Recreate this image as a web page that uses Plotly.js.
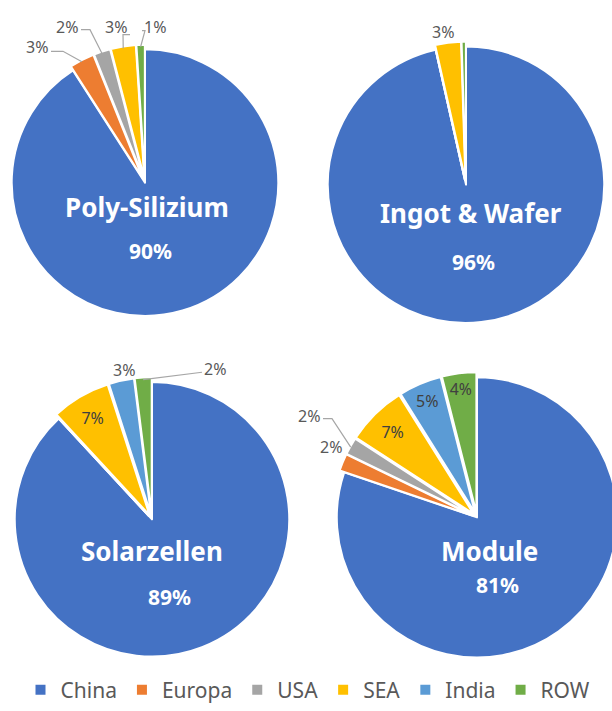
<!DOCTYPE html>
<html>
<head>
<meta charset="utf-8">
<script src="https://cdn.plot.ly/plotly-3.0.1.min.js"></script>
<style>
html, body { margin: 0; padding: 0; overflow: hidden; background: #fff; }
#chart { width: 630px; height: 711px; }
</style>
</head>
<body>
<div id="chart"></div>
<script>
// ---- data ----
const regions = ["China", "Europa", "USA", "SEA", "India", "ROW"];
const stages = ["Poly-Silizium", "Ingot & Wafer", "Solarzellen", "Module"];
const polySilizium = [90, 3, 2, 3, 0, 1];
const ingotWafer   = [96, 0, 0, 3, 0, 0.5];
const solarzellen  = [89, 0, 0, 7, 3, 2];
const moduleShare  = [81, 2, 2, 7, 5, 4];
const colors = ["#4472C4", "#ED7D31", "#A5A5A5", "#FFC000", "#5B9BD5", "#70AD47"];

// ---- layout helpers (positions only) ----
const W = 630, H = 711;
const seriesList = [polySilizium, ingotWafer, solarzellen, moduleShare];
const geo = [
  {cx: 145, cy: 185, r: 135},
  {cx: 466, cy: 187, r: 140},
  {cx: 152, cy: 526, r: 139},
  {cx: 477, cy: 524, r: 142}
];
const PULL = 0.035;
// slices labelled inside by plotly
const insideIdx = [[], [], [3], [3, 4, 5]];
// outside labels: pie, slice, label centre (px), optional elbow (px)
const outLabels = [
  {p: 0, k: 1, x: 37,  y: 48,  elbow: [63, 52]},
  {p: 0, k: 2, x: 67,  y: 27,  elbow: [90, 30]},
  {p: 0, k: 3, x: 116, y: 27,  elbow: [123, 35]},
  {p: 0, k: 5, x: 155, y: 27,  elbow: [145, 31]},
  {p: 1, k: 3, x: 443, y: 32,  elbow: null},
  {p: 2, k: 4, x: 124, y: 375, elbow: null},
  {p: 2, k: 5, x: 215, y: 374, elbow: [202, 377]},
  {p: 3, k: 2, x: 309, y: 421, elbow: [332, 424]},
  {p: 3, k: 1, x: 331, y: 453, elbow: null}
];

const traces = seriesList.map((vals, i) => {
  const g = geo[i];
  const half = g.r * (1 + PULL);
  return {
    type: "pie",
    name: stages[i],
    labels: regions,
    values: vals,
    sort: false,
    direction: "clockwise",
    rotation: 0,
    pull: vals.map((v, k) => k === 0 ? 0 : PULL),
    marker: {colors: colors, line: {color: "#ffffff", width: 2}},
    texttemplate: vals.map((v, k) => insideIdx[i].includes(k) ? v + "%" : ""),
    textposition: vals.map((v, k) => insideIdx[i].includes(k) ? "inside" : "none"),
    insidetextorientation: "horizontal",
    insidetextfont: {family: "Noto Sans", size: 16, color: "#404040"},
    hoverinfo: "label+value",
    showlegend: true,
    domain: {
      x: [(g.cx - half) / W, (g.cx + half) / W],
      y: [1 - (g.cy + half) / H, 1 - (g.cy - half) / H]
    }
  };
});

const px = x => x / W, py = y => 1 - y / H;
const annotations = [];
const shapes = [];

// big labels inside the China slice
const titlePos = [
  {x: 147, y: 210, px: 150, py: 254},
  {x: 471, y: 216, px: 473, py: 265},
  {x: 152, y: 558, px: 169, py: 605},
  {x: 489, y: 558, px: 497, py: 593}
];
stages.forEach((s, i) => {
  const p = titlePos[i];
  annotations.push({
    text: "<b>" + s + "</b>", xref: "paper", yref: "paper",
    x: px(p.x), y: py(p.y), xanchor: "center", yanchor: "middle",
    showarrow: false, font: {family: "Noto Sans", size: 26, color: "#ffffff"}
  });
  annotations.push({
    text: "<b>" + seriesList[i][0] + "%</b>", xref: "paper", yref: "paper",
    x: px(p.px), y: py(p.py), xanchor: "center", yanchor: "middle",
    showarrow: false, font: {family: "Noto Sans", size: 21, color: "#ffffff"}
  });
});

// outside labels with leader lines to the slice edge (edge computed from the data)
outLabels.forEach(L => {
  const vals = seriesList[L.p];
  const total = vals.reduce((a, b) => a + b, 0);
  let cum = 0;
  for (let k = 0; k < L.k; k++) cum += vals[k];
  const mid = (cum + vals[L.k] / 2) / total * 2 * Math.PI;
  const g = geo[L.p];
  const rr = g.r * (1 + PULL) - 2;
  const ex = g.cx + rr * Math.sin(mid), ey = g.cy - rr * Math.cos(mid);
  annotations.push({
    text: vals[L.k] + "%", xref: "paper", yref: "paper",
    x: px(L.x), y: py(L.y), xanchor: "center", yanchor: "middle",
    showarrow: false, font: {family: "Noto Sans", size: 16, color: "#595959"}
  });
  if (L.elbow) {
    const sx = L.elbow[0] < L.x - 5 ? L.x - 13 : (L.elbow[0] > L.x + 5 ? L.x + 14 : L.elbow[0]);
    const sy = L.elbow[1];
    const path = "M " + px(sx) + "," + py(sy) + " L " + px(L.elbow[0]) + "," + py(L.elbow[1]) +
                 " L " + px(ex) + "," + py(ey);
    shapes.push({type: "path", xref: "paper", yref: "paper", path: path,
                 line: {color: "#A6A6A6", width: 1.2}});
  }
});

const layout = {
  width: W, height: H,
  margin: {l: 0, r: 0, t: 0, b: 0},
  paper_bgcolor: "#ffffff",
  font: {family: "Noto Sans", color: "#595959"},
  showlegend: true,
  legend: {
    orientation: "h", x: 308 / W, xanchor: "center",
    y: 1 - 699 / H, yanchor: "middle",
    font: {family: "Noto Sans", size: 21, color: "#595959"},
    traceorder: "normal"
  },
  annotations: annotations,
  shapes: shapes
};

Plotly.newPlot("chart", traces, layout, {displayModeBar: false, staticPlot: true});
</script>
</body>
</html>
